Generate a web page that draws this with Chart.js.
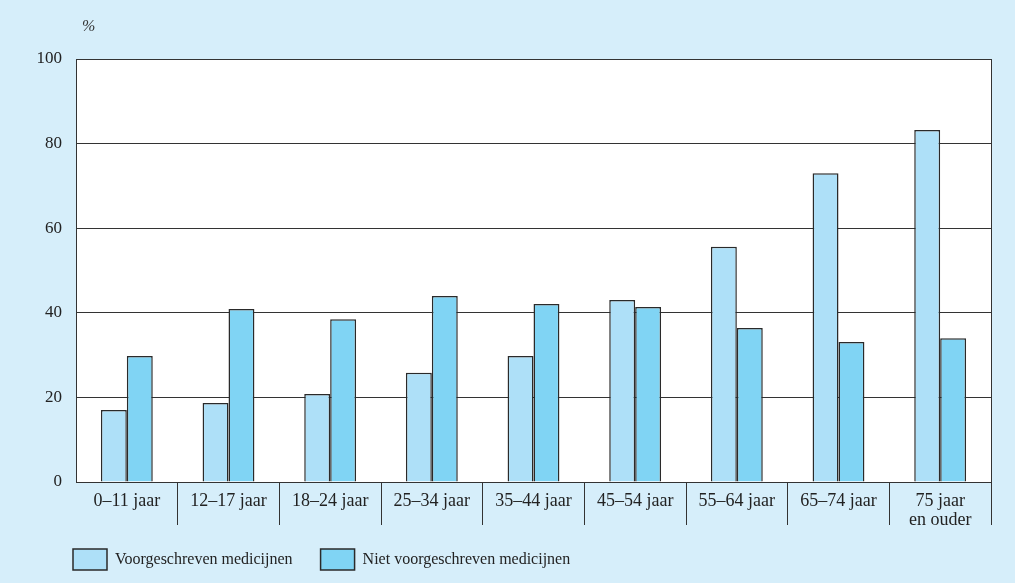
<!DOCTYPE html>
<html>
<head>
<meta charset="utf-8">
<script src="https://cdn.jsdelivr.net/npm/chart.js@4"></script>
<style>
	html, body { margin: 0; padding: 0; background: #d6eefa; }
	#wrap { width: 1015px; height: 583px; position: relative; }
</style>
</head>
<body>
<div id="wrap"><canvas id="chart"></canvas></div>
<script>
	/* Medicijngebruik naar leeftijd */
	const age_groups = ['0–11 jaar', '12–17 jaar', '18–24 jaar', '25–34 jaar', '35–44 jaar', '45–54 jaar', '55–64 jaar', '65–74 jaar', ['75 jaar', 'en ouder']];
	const prescribed = [17.0, 18.7, 20.8, 25.8, 29.8, 43.0, 55.6, 73.0, 83.2];
	const not_prescribed = [29.8, 40.9, 38.5, 44.0, 42.1, 41.4, 36.4, 33.1, 34.0];
	const y_ticks = [0, 20, 40, 60, 80, 100];

	const font_family = '"Liberation Serif", "DejaVu Serif", serif';
	const line_color = '#333333';

	// white plot area, outer frame, % label and legend offset
	const frame_plugin = {
		id: 'frame',
		afterLayout(chart) {
			let lg = chart.legend;
			if (!lg) return;
			lg.left += 25; lg.right += 25;
			lg.top -= 11; lg.bottom -= 11;
		},
		beforeDraw(chart) {
			let ctx = chart.ctx, a = chart.chartArea;
			ctx.save();
			ctx.fillStyle = '#ffffff';
			ctx.fillRect(a.left, a.top, a.right - a.left, a.bottom - a.top);
			ctx.restore();
		},
		afterDraw(chart) {
			let ctx = chart.ctx, a = chart.chartArea;
			ctx.save();
			ctx.strokeStyle = line_color;
			ctx.lineWidth = 1;
			ctx.strokeRect(a.left + 0.5, a.top + 0.5, a.right - a.left, a.bottom - a.top);
			ctx.fillStyle = '#333';
			ctx.font = 'italic 16px ' + font_family;
			ctx.textBaseline = 'middle';
			ctx.fillText('%', a.left + 6, a.top - 32);
			ctx.restore();
		}
	};

	let ctx = document.getElementById('chart').getContext('2d');
	let n = age_groups.length;
	new Chart(ctx, {
		type: 'bar',
		data: {
			labels: age_groups,
			datasets: [{
				label: 'Voorgeschreven medicijnen',
				data: prescribed,
				backgroundColor: '#aee0f8',
				borderColor: '#2a2a2a',
				borderWidth: 1.5,
				categoryPercentage: 0.51,
				barPercentage: 1.0
			}, {
				label: 'Niet voorgeschreven medicijnen',
				data: not_prescribed,
				backgroundColor: '#80d4f4',
				borderColor: '#2a2a2a',
				borderWidth: 1.5,
				categoryPercentage: 0.51,
				barPercentage: 1.0
			}]
		},
		options: {
			responsive: true,
			maintainAspectRatio: false,
			animation: false,
			layout: { padding: { left: 20, right: 24, top: 59, bottom: -8 } },
			plugins: {
				legend: {
					position: 'bottom',
					align: 'start',
					labels: {
						boxWidth: 34,
						boxHeight: 21,
						padding: 28,
						color: '#222',
						font: { family: font_family, size: 16 }
					}
				},
				tooltip: { enabled: false }
			},
			scales: {
				x: {
					grid: {
						offset: true,
						drawOnChartArea: false,
						drawTicks: true,
						tickLength: 43,
						color: c => (c.index === 0 || c.index === n) ? 'rgba(0,0,0,0)' : line_color
					},
					border: { display: true, color: line_color },
					ticks: {
						color: '#222',
						padding: -33,
						maxRotation: 0,
						autoSkip: false,
						font: { family: font_family, size: 18, lineHeight: 1.05 }
					},
					afterFit: s => { s.height = 50; }
				},
				y: {
					min: 0,
					max: 100,
					afterBuildTicks: s => { s.ticks = y_ticks.map(v => ({ value: v })); },
					grid: { color: line_color, drawTicks: false },
					border: { display: true, color: line_color },
					ticks: {
						color: '#222',
						padding: 14,
						font: { family: font_family, size: 17 }
					},
					afterFit: s => { s.width = 56; }
				}
			}
		},
		plugins: [frame_plugin]
	});
</script>
</body>
</html>
